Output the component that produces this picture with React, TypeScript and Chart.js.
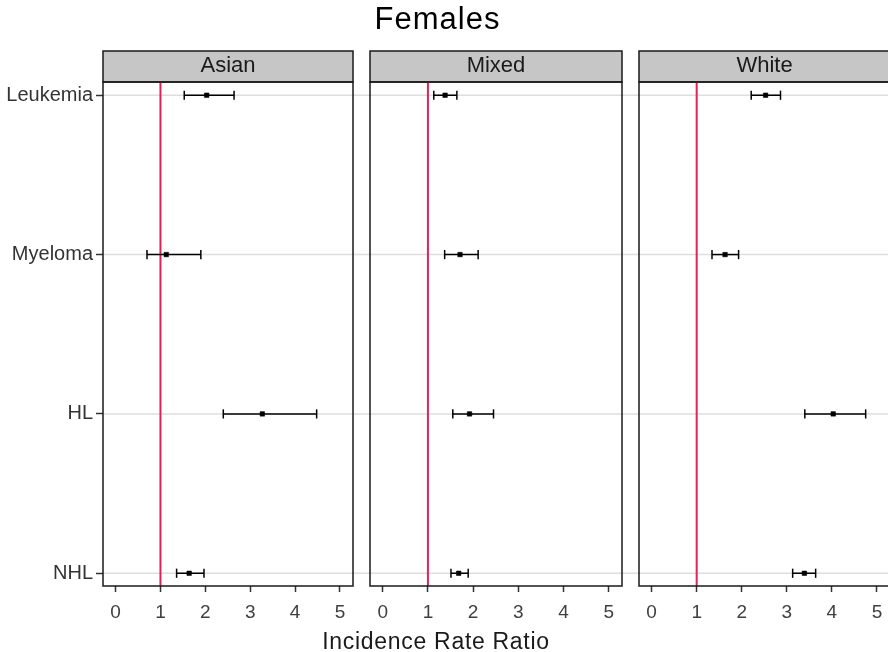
import React, { useEffect, useRef } from 'react';
import { Chart, registerables } from 'chart.js';

Chart.register(...registerables);

// ---- data (rows listed bottom to top: index 0 = NHL) ----
const categories = ['NHL', 'HL', 'Myeloma', 'Leukemia'];
const panelNames = ['Asian', 'Mixed', 'White'];
const xTicks = [0, 1, 2, 3, 4, 5];
const refValue = 1;

const asianEst = [1.64, 3.27, 1.13, 2.03];
const asianLo = [1.36, 2.40, 0.70, 1.53];
const asianHi = [1.97, 4.48, 1.90, 2.64];

const mixedEst = [1.68, 1.92, 1.71, 1.38];
const mixedLo = [1.51, 1.55, 1.37, 1.13];
const mixedHi = [1.89, 2.45, 2.11, 1.64];

const whiteEst = [3.39, 4.03, 1.63, 2.53];
const whiteLo = [3.13, 3.40, 1.34, 2.21];
const whiteHi = [3.64, 4.75, 1.93, 2.86];

const titleText = 'Females';
const xTitleText = 'Incidence Rate Ratio';

// ---- look ----
const FONT = '"Liberation Sans", Arial, Helvetica, sans-serif';
const X_MIN = -0.28;
const X_MAX = 5.29;
const Y_MIN = -0.08;
const Y_MAX = 3.083;
const STRIP_TOP = 51;
const CANVAS_H = 652;

Chart.defaults.font.family = FONT;

type PanelProps = {
  name: string;
  est: number[];
  lo: number[];
  hi: number[];
  showY: boolean;
  left: number;
  width: number;
  padLeft: number;
  padRight: number;
};

function Panel({ name, est, lo, hi, showY, left, width, padLeft, padRight }: PanelProps) {
  const ref = useRef<HTMLCanvasElement>(null);

  useEffect(() => {
    if (!ref.current) return;
    const idx = categories.map((_, i) => i);

    const stripPlugin = {
      id: 'strip',
      beforeDraw(chart: any) {
        const { ctx, chartArea } = chart;
        const h = chartArea.top - STRIP_TOP;
        ctx.save();
        ctx.fillStyle = '#C6C6C6';
        ctx.fillRect(chartArea.left, STRIP_TOP, chartArea.right - chartArea.left, h);
        ctx.strokeStyle = '#1A1A1A';
        ctx.lineWidth = 1.5;
        ctx.strokeRect(chartArea.left, STRIP_TOP, chartArea.right - chartArea.left, h);
        ctx.restore();
      },
    };

    const gridPlugin = {
      id: 'hgrid',
      beforeDatasetsDraw(chart: any) {
        const { ctx, chartArea, scales } = chart;
        const x0 = showY ? chartArea.left : 0;
        const x1 = chart.width;
        ctx.save();
        ctx.strokeStyle = '#DEDEDE';
        ctx.lineWidth = 1.5;
        idx.forEach((v) => {
          const y = scales.y.getPixelForValue(v);
          ctx.beginPath();
          ctx.moveTo(x0, y);
          ctx.lineTo(x1, y);
          ctx.stroke();
        });
        ctx.restore();
      },
    };

    const borderPlugin = {
      id: 'pborder',
      afterDatasetsDraw(chart: any) {
        const { ctx, chartArea } = chart;
        ctx.save();
        ctx.strokeStyle = '#1A1A1A';
        ctx.lineWidth = 1.5;
        ctx.strokeRect(chartArea.left, chartArea.top, chartArea.right - chartArea.left, chartArea.bottom - chartArea.top);
        ctx.restore();
      },
    };

    const pointData = idx.map((i) => ({ x: est[i], y: i }));
    const capData = idx.flatMap((i) => [{ x: lo[i], y: i }, { x: hi[i], y: i }]);
    const whiskers = idx.map((i) => ({
      type: 'line' as const,
      data: [{ x: lo[i], y: i }, { x: hi[i], y: i }],
      borderColor: '#000000',
      borderWidth: 1.5,
      pointRadius: 0,
      showLine: true,
      fill: false,
    }));

    const chart = new Chart(ref.current, {
      type: 'scatter',
      data: {
        datasets: [
          {
            data: pointData,
            pointStyle: 'rect',
            pointRadius: 3.2,
            backgroundColor: '#000000',
            borderColor: '#000000',
            borderWidth: 0.5,
          } as any,
          {
            data: capData,
            pointStyle: 'line',
            rotation: 90,
            pointRadius: 4.6,
            borderColor: '#000000',
            borderWidth: 1.5,
          } as any,
          ...whiskers,
          {
            type: 'line',
            data: [{ x: refValue, y: Y_MIN }, { x: refValue, y: Y_MAX }],
            borderColor: '#DE2457',
            borderWidth: 2,
            pointRadius: 0,
            showLine: true,
            fill: false,
          } as any,
        ],
      },
      options: {
        animation: false,
        responsive: false,
        devicePixelRatio: 1,
        events: [],
        layout: { padding: { left: padLeft, right: padRight, top: 0, bottom: 0 } },
        plugins: {
          legend: { display: false },
          tooltip: { enabled: false },
          title: {
            display: true,
            text: name,
            fullSize: false,
            color: '#1A1A1A',
            font: { size: 22, weight: 'normal', family: FONT },
            padding: { top: 53, bottom: 2.6 },
          },
        },
        scales: {
          x: {
            type: 'linear',
            min: X_MIN,
            max: X_MAX,
            afterBuildTicks: (s: any) => {
              s.ticks = xTicks.map((v) => ({ value: v }));
            },
            afterFit: (s: any) => {
              s.height = 66;
            },
            grid: { drawOnChartArea: false, drawTicks: true, tickLength: 6, tickColor: '#333333', tickWidth: 1.5 },
            border: { display: false },
            ticks: { color: '#404040', font: { size: 19 }, padding: 9, maxRotation: 0, autoSkip: false },
          },
          y: {
            type: 'linear',
            min: Y_MIN,
            max: Y_MAX,
            display: showY,
            afterBuildTicks: (s: any) => {
              s.ticks = idx.map((v) => ({ value: v }));
            },
            afterFit: (s: any) => {
              s.width = showY ? 103 : 0;
            },
            grid: { drawOnChartArea: false, drawTicks: true, tickLength: 7, tickColor: '#333333', tickWidth: 1.5 },
            border: { display: false },
            ticks: {
              color: '#333333',
              font: { size: 20 },
              padding: 3,
              autoSkip: false,
              callback: (v: any) => categories[Math.round(Number(v))] ?? '',
            },
          },
        },
      } as any,
      plugins: [stripPlugin, gridPlugin, borderPlugin],
    });
    return () => chart.destroy();
  }, []);

  return (
    <canvas
      ref={ref}
      width={width}
      height={CANVAS_H}
      style={{ position: 'absolute', left, top: 0, width, height: CANVAS_H }}
    />
  );
}

export default function App() {
  const ests = [asianEst, mixedEst, whiteEst];
  const los = [asianLo, mixedLo, whiteLo];
  const his = [asianHi, mixedHi, whiteHi];
  const geo = [
    { left: 0, width: 361, padLeft: 0, padRight: 8 },
    { left: 361, width: 269, padLeft: 9, padRight: 8 },
    { left: 630, width: 270, padLeft: 9, padRight: 10 },
  ];
  return (
    <div
      style={{
        position: 'fixed',
        left: 0,
        top: 0,
        width: 888,
        height: 652,
        overflow: 'hidden',
        background: '#FFFFFF',
        fontFamily: FONT,
      }}
    >
      {panelNames.map((n, i) => (
        <Panel
          key={n}
          name={n}
          est={ests[i]}
          lo={los[i]}
          hi={his[i]}
          showY={i === 0}
          {...geo[i]}
        />
      ))}
      <div
        style={{
          position: 'absolute',
          left: 237.5,
          width: 400,
          top: 3,
          textAlign: 'center',
          fontSize: 31,
          lineHeight: '31px',
          letterSpacing: 1,
          color: '#000000',
          whiteSpace: 'nowrap',
        }}
      >
        {titleText}
      </div>
      <div
        style={{
          position: 'absolute',
          left: 236,
          width: 400,
          top: 630,
          textAlign: 'center',
          fontSize: 23,
          lineHeight: '23px',
          letterSpacing: 0.7,
          color: '#1A1A1A',
          whiteSpace: 'nowrap',
        }}
      >
        {xTitleText}
      </div>
    </div>
  );
}
